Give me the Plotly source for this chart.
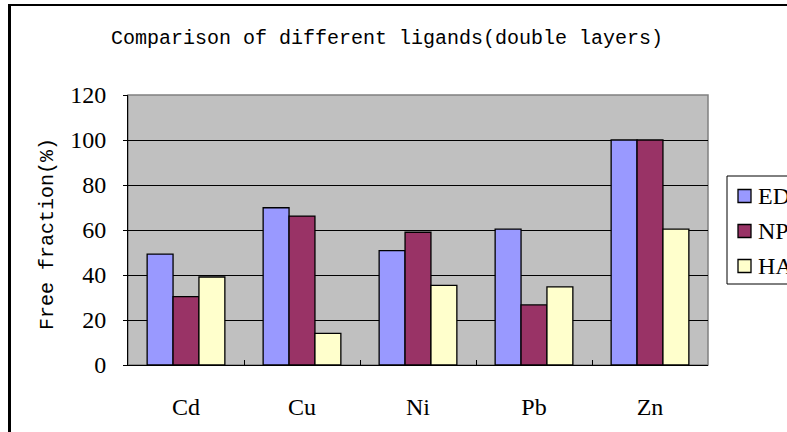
import plotly.graph_objects as go

# data
metals = ["Cd", "Cu", "Ni", "Pb", "Zn"]
ed_values = [49.3, 69.9, 50.8, 60.4, 100]
np_values = [30.4, 66.2, 59.0, 26.7, 100]
ha_values = [39.1, 14.1, 35.4, 34.7, 60.4]
series_names = ["ED", "NP", "HA"]
y_ticks = [0, 20, 40, 60, 80, 100, 120]

MONO = "Liberation Mono"
SERIF = "Liberation Serif"
colors = ["#9999FF", "#993366", "#FFFFCC"]

# plot area in pixels (left, right, top, bottom)
PL, PR, PT, PB = 128, 708, 95, 365


def px_x(px):
    return (px - PL) / (PR - PL)


def px_y(py):
    return (PB - py) / (PB - PT)


fig = go.Figure()
for name, vals, col in zip(series_names, [ed_values, np_values, ha_values], colors):
    fig.add_trace(go.Bar(
        x=metals, y=vals, name=name,
        marker=dict(color=col, line=dict(color="black", width=1.3)),
    ))

fig.update_layout(
    width=787, height=432,
    margin=dict(l=PL, r=787 - PR, t=PT, b=432 - PB, autoexpand=False),
    paper_bgcolor="white",
    plot_bgcolor="#C0C0C0",
    barmode="group",
    bargap=0.33,
    bargroupgap=0,
    font=dict(family=SERIF, size=24, color="black"),
    title=dict(
        text="Comparison of different ligands(double layers)",
        x=px_x(387), xref="paper", xanchor="center",
        y=1 - 37 / 432, yanchor="middle",
        font=dict(family=MONO, size=20, color="black"),
    ),
    showlegend=False,
)

fig.update_xaxes(
    showgrid=False, showline=True, linecolor="black", linewidth=1,
    ticks="inside", tickson="boundaries", ticklen=5, tickcolor="black",
    ticklabelstandoff=20, tickfont=dict(family=SERIF, size=24),
)
fig.update_yaxes(
    range=[0, 120], tickvals=y_ticks, showgrid=True, gridcolor="black", gridwidth=1,
    showline=True, linecolor="black", linewidth=1,
    ticks="outside", ticklen=4, tickcolor="black", ticklabelstandoff=12,
    tickfont=dict(family=SERIF, size=24),
    zeroline=False, automargin=False,
)

# y axis title
fig.add_annotation(
    text="Free fraction(%)", textangle=-90, showarrow=False,
    xref="paper", yref="paper", x=px_x(47), y=px_y(234),
    xanchor="center", yanchor="middle",
    font=dict(family=MONO, size=20, color="black"),
)

# gray plot-area border on top and right
fig.add_shape(type="rect", xref="paper", yref="paper", x0=0, x1=1, y0=0, y1=1,
              line=dict(color="#808080", width=1.5), layer="below")

# legend box (runs off the right edge as in the reference)
fig.add_shape(type="rect", xref="paper", yref="paper",
              x0=px_x(727), x1=px_x(800), y0=px_y(284), y1=px_y(176),
              line=dict(color="black", width=1), fillcolor="white")
for i, (name, col) in enumerate(zip(series_names, colors)):
    cy = 196 + i * 35
    fig.add_shape(type="rect", xref="paper", yref="paper",
                  x0=px_x(738), x1=px_x(751), y0=px_y(cy + 6.5), y1=px_y(cy - 6.5),
                  line=dict(color="black", width=1.3), fillcolor=col)
    fig.add_annotation(text=name, showarrow=False, xref="paper", yref="paper",
                       x=px_x(756), y=px_y(cy), xanchor="left", yanchor="middle",
                       font=dict(family=SERIF, size=24, color="black"))

# chart frame (left and top edges visible)
fig.add_shape(type="line", xref="paper", yref="paper",
              x0=px_x(9.5), x1=px_x(9.5), y0=px_y(440), y1=px_y(4),
              line=dict(color="black", width=3))
fig.add_shape(type="line", xref="paper", yref="paper",
              x0=px_x(8), x1=px_x(800), y0=px_y(5), y1=px_y(5),
              line=dict(color="black", width=2))

fig.write_html("out.html", config={"displayModeBar": False},
               post_script="document.body.style.margin='0px';")
